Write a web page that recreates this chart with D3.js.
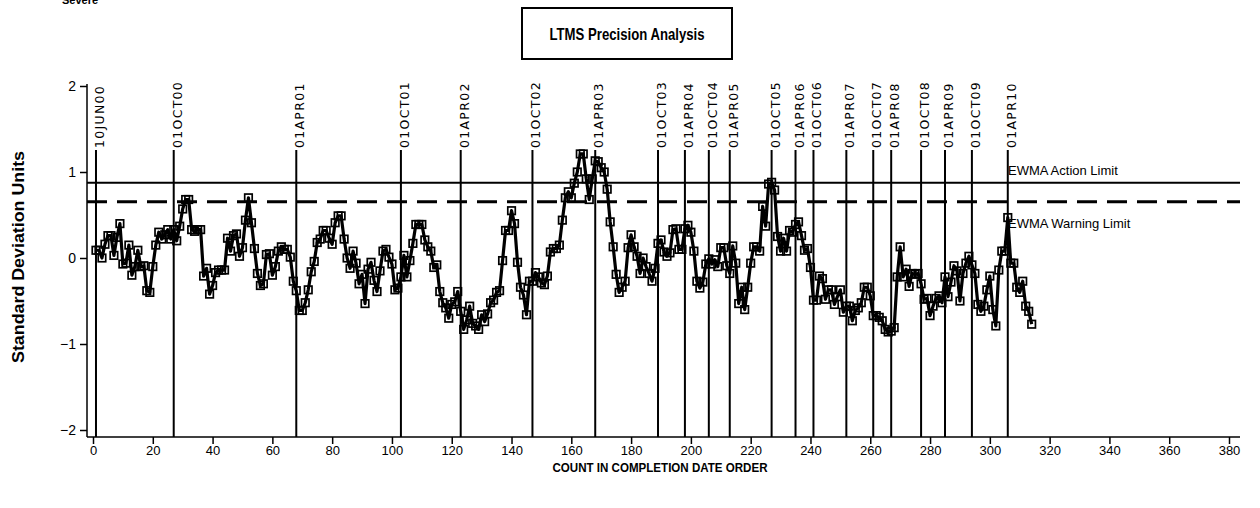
<!DOCTYPE html>
<html>
<head>
<meta charset="utf-8">
<script src="https://cdn.jsdelivr.net/npm/d3@7"></script>
<style>
  body { margin: 0; background: #fff; }
  svg { display: block; }
</style>
</head>
<body>
<svg id="chart" width="1260" height="508"></svg>
<script>
// EWMA values in standard deviation units, one per test in completion-date order (count 1..N)
const ewmaValues = [
  0.09, 0.09, 0.00, 0.16, 0.26, 0.26, 0.03, 0.24, 0.40, -0.07,
  -0.06, 0.15, -0.20, -0.10, 0.09, -0.10, -0.09, -0.38, -0.40, -0.10,
  0.15, 0.30, 0.22, 0.27, 0.33, 0.22, 0.33, 0.20, 0.37, 0.57,
  0.68, 0.68, 0.33, 0.31, 0.33, 0.33, -0.21, -0.12, -0.42, -0.32,
  -0.17, -0.14, -0.14, -0.14,
  0.23, 0.08, 0.26, 0.28, 0.02, 0.12, 0.44, 0.70, 0.41, 0.11,
  -0.18, -0.32, -0.30, 0.04, 0.05, -0.20, -0.10, 0.08, 0.13, 0.10,
  0.10, 0.01, -0.27, -0.38, -0.61, -0.61, -0.52, -0.37, -0.16, -0.04,
  0.18, 0.22, 0.32, 0.32, 0.23, 0.16, 0.41, 0.49, 0.49, 0.22,
  0.00, -0.12, 0.08, -0.06, -0.30, -0.19, -0.53, -0.13, -0.05, -0.26,
  -0.39, -0.15, 0.08, 0.10, 0.01, -0.07, -0.37, -0.35, -0.22, 0.03,
  -0.22, -0.03, 0.17, 0.39, 0.39, 0.39, 0.21, 0.13, 0.08, -0.11,
  -0.08, -0.39, -0.52, -0.58, -0.70, -0.54, -0.51, -0.39, -0.62, -0.83,
  -0.72, -0.56, -0.76, -0.79, -0.83, -0.66, -0.74, -0.65, -0.52, -0.49,
  -0.40, -0.38, -0.03, 0.32, 0.32, 0.55, 0.40, -0.05, -0.34, -0.43,
  -0.66, -0.27, -0.27, -0.17, -0.22, -0.29, -0.31, -0.21, 0.07, 0.11,
  0.11, 0.15, 0.44, 0.70, 0.77, 0.70, 0.87, 1.00, 1.21, 1.21,
  0.92, 0.68, 0.92, 1.13, 1.12, 1.05, 1.00, 0.80, 0.42, 0.13,
  -0.19, -0.40, -0.34, -0.27, 0.12, 0.27, 0.13, 0.02, -0.18, 0.00,
  -0.10, -0.18, -0.27, -0.12, 0.17, 0.21, 0.07, 0.02, 0.06, 0.33,
  0.34, 0.10, 0.10, 0.34, 0.38, 0.30, 0.08, -0.27, -0.35, -0.28,
  -0.07, -0.01, -0.07, -0.02, -0.10, 0.12, 0.12, -0.09, -0.18, 0.14,
  -0.06, -0.53, -0.34, -0.60, -0.34, -0.06, 0.13, 0.13, 0.08, 0.60,
  0.37, 0.86, 0.88, 0.79, 0.25, 0.08, 0.23, 0.08, 0.32, 0.30,
  0.39, 0.42, 0.26, 0.09, 0.11, -0.11, -0.49, -0.49, -0.21, -0.24,
  -0.48, -0.37, -0.37, -0.54, -0.45, -0.37, -0.63, -0.56, -0.56, -0.73,
  -0.61, -0.58, -0.52, -0.34, -0.34, -0.44, -0.67, -0.67, -0.69, -0.73,
  -0.83, -0.86, -0.85, -0.81, -0.22, 0.13,
  -0.22, -0.13, -0.33, -0.18, -0.19, -0.18, -0.30, -0.48, -0.47, -0.67,
  -0.56, -0.47, -0.44, -0.52, -0.22, -0.45, -0.28, -0.09, -0.15, -0.50,
  -0.18, -0.06, 0.02, -0.08, -0.18, -0.54, -0.62, -0.56, -0.37, -0.21,
  -0.60, -0.79, -0.14, 0.08, 0.08, 0.47, -0.06, -0.06, -0.34, -0.40,
  -0.27, -0.56, -0.62, -0.77
];

// Calendar markers: count at which each date falls, and its label
const dateCounts = [1, 27, 68, 103, 123, 147, 168, 189, 198, 206, 213, 227, 235, 241, 252, 261, 267, 277, 285, 294, 306];
const dateLabels = ["10JUN00", "01OCT00", "01APR01", "01OCT01", "01APR02", "01OCT02", "01APR03",
  "01OCT03", "01APR04", "01OCT04", "01APR05", "01OCT05", "01APR06", "01OCT06", "01APR07",
  "01OCT07", "01APR08", "01OCT08", "01APR09", "01OCT09", "01APR10"];

// Control limits
const limitValues = [0.875, 0.655];
const limitLabels = ["EWMA Action Limit", "EWMA Warning Limit"];

const xTickValues = d3.range(0, 381, 20);
const yTickValues = [-2, -1, 0, 1, 2];

const svg = d3.select("#chart");
const x = d3.scaleLinear().domain([0, 380]).range([93, 1229]);
const y = d3.scaleLinear().domain([-2, 2]).range([430, 86]);

const axisLeftX = 87, axisRightX = 1240, axisBottomY = 437;
const narrow = "'Liberation Sans Narrow', 'Arial Narrow', 'Liberation Sans', sans-serif";

// Top-left caption (clipped by the page edge)
svg.append("text").attr("x", 62).attr("y", 4)
  .attr("font-family", narrow).attr("font-weight", "bold").attr("font-size", 11)
  .text("Severe");

// Title box
svg.append("rect").attr("x", 522).attr("y", 8).attr("width", 210).attr("height", 51)
  .attr("fill", "none").attr("stroke", "#000").attr("stroke-width", 2);
svg.append("text").attr("x", 627).attr("y", 40).attr("text-anchor", "middle")
  .attr("font-family", narrow).attr("font-weight", "bold").attr("font-size", 17)
  .attr("textLength", 155).attr("lengthAdjust", "spacingAndGlyphs")
  .text("LTMS Precision Analysis");

// X axis
const gx = svg.append("g").attr("transform", `translate(0,${axisBottomY})`);
gx.call(d3.axisBottom(x).tickValues(d3.range(0, 381, 5)).tickSize(4).tickFormat(""));
gx.call(d3.axisBottom(x).tickValues(xTickValues).tickSize(7).tickPadding(2).tickFormat(d3.format("d")));
gx.selectAll(".domain").remove();
gx.selectAll("line").attr("stroke", "#000").attr("stroke-width", 1.5);
gx.selectAll("text").attr("font-family", "'Liberation Sans', Arial, sans-serif").attr("font-size", 13).attr("fill", "#000");
svg.append("line").attr("x1", axisLeftX).attr("x2", axisRightX).attr("y1", axisBottomY).attr("y2", axisBottomY)
  .attr("stroke", "#000").attr("stroke-width", 1.5);

// Y axis
const gy = svg.append("g").attr("transform", `translate(${axisLeftX},0)`);
gy.call(d3.axisLeft(y).tickValues(d3.range(-20, 21).map(d => d / 10)).tickSize(4).tickFormat(""));
gy.call(d3.axisLeft(y).tickValues(yTickValues).tickSize(7).tickPadding(4).tickFormat(d => d < 0 ? "\u2212" + Math.abs(d) : d));
gy.selectAll(".domain").remove();
gy.selectAll("line").attr("stroke", "#000").attr("stroke-width", 1.5);
gy.selectAll("text").attr("font-family", "'Liberation Sans', Arial, sans-serif").attr("font-size", 14).attr("fill", "#000");
svg.append("line").attr("x1", axisLeftX).attr("x2", axisLeftX).attr("y1", y(2) - 2).attr("y2", axisBottomY)
  .attr("stroke", "#000").attr("stroke-width", 1.5);

// Axis titles
svg.append("text").attr("x", 660).attr("y", 472).attr("text-anchor", "middle")
  .attr("font-family", narrow).attr("font-weight", "bold").attr("font-size", 12)
  .attr("textLength", 215).attr("lengthAdjust", "spacingAndGlyphs")
  .text("COUNT IN COMPLETION DATE ORDER");
svg.append("text").attr("transform", "translate(24,257) rotate(-90)").attr("text-anchor", "middle")
  .attr("font-family", narrow).attr("font-weight", "bold").attr("font-size", 16)
  .attr("textLength", 212).attr("lengthAdjust", "spacingAndGlyphs")
  .text("Standard Deviation Units");

// Date reference lines with rotated labels
const dates = svg.append("g");
dates.selectAll("line").data(dateCounts).join("line")
  .attr("x1", d => x(d)).attr("x2", d => x(d))
  .attr("y1", 150).attr("y2", axisBottomY)
  .attr("stroke", "#000").attr("stroke-width", 2);
dates.selectAll("text").data(dateCounts).join("text")
  .attr("transform", d => `translate(${x(d) + 8},148) rotate(-90)`)
  .attr("font-family", "'DejaVu Sans', sans-serif").attr("font-size", 12.5)
  .attr("letter-spacing", 1.3)
  .text((d, i) => dateLabels[i]);

// Control limit lines
svg.append("line").attr("x1", axisLeftX).attr("x2", axisRightX)
  .attr("y1", y(limitValues[0])).attr("y2", y(limitValues[0]))
  .attr("stroke", "#000").attr("stroke-width", 2);
svg.append("line").attr("x1", axisLeftX).attr("x2", axisRightX)
  .attr("y1", y(limitValues[1])).attr("y2", y(limitValues[1]))
  .attr("stroke", "#000").attr("stroke-width", 3).attr("stroke-dasharray", "20 10");
svg.append("text").attr("x", 1008).attr("y", y(limitValues[0]) - 8)
  .attr("font-family", narrow).attr("font-size", 13).text(limitLabels[0]);
svg.append("text").attr("x", 1008).attr("y", y(limitValues[1]) + 26)
  .attr("font-family", narrow).attr("font-size", 13).text(limitLabels[1]);

// EWMA series
const series = ewmaValues.map((v, i) => ({ count: i + 1, value: v }));
svg.append("path").datum(series)
  .attr("fill", "none").attr("stroke", "#000").attr("stroke-width", 3.2).attr("stroke-linejoin", "round")
  .attr("d", d3.line().x(d => x(d.count)).y(d => y(d.value)));
svg.append("g").selectAll("rect").data(series).join("rect")
  .attr("x", d => x(d.count) - 3.75).attr("y", d => y(d.value) - 3.75)
  .attr("width", 7.5).attr("height", 7.5)
  .attr("fill", "none").attr("stroke", "#000").attr("stroke-width", 1.7);
</script>
</body>
</html>
